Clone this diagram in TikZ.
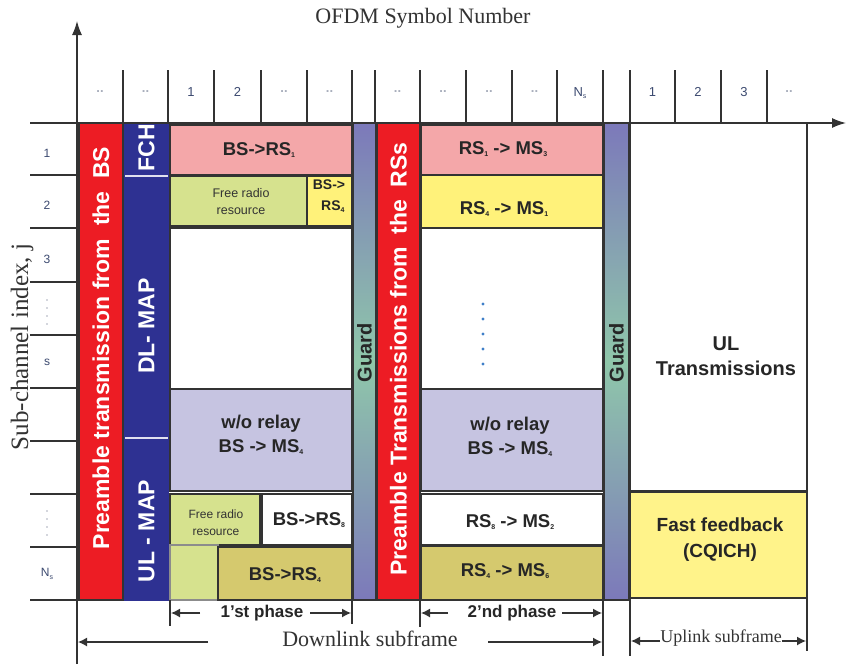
\documentclass[tikz,border=0pt]{standalone}
\usepackage{fontspec}
\setmainfont{Liberation Serif}
\setsansfont{Liberation Sans}
\usetikzlibrary{arrows.meta}
\definecolor{pred}{HTML}{ED1C24}
\definecolor{dblue}{HTML}{2E3192}
\definecolor{pinkc}{HTML}{F4A7A9}
\definecolor{lgreen}{HTML}{D6E28E}
\definecolor{lyellow}{HTML}{FFF27A}
\definecolor{lav}{HTML}{C6C4E1}
\definecolor{olive}{HTML}{D5C96E}
\definecolor{guardp}{HTML}{7C79BA}
\definecolor{guardg}{HTML}{8FC7AA}
\definecolor{ffyel}{HTML}{FFF38A}
\definecolor{edgec}{HTML}{333333}
\definecolor{hdrgray}{HTML}{A8AEBC}
\definecolor{hdrnum}{HTML}{3C4A70}
\definecolor{dotblue}{HTML}{3F7FC8}
\newcommand\fsz[2]{\fontsize{#1}{#2}\selectfont}
\newcommand\sbs[1]{\raisebox{-2.5pt}{\fontsize{7}{7}\selectfont #1}}
\newcommand\blk[8][]{%
  \pgfmathsetmacro\myW{#5-#3}\pgfmathsetmacro\myH{#6-#4}%
  \node[blk,fill=#7,minimum width=\myW pt,minimum height=\myH pt,anchor=north west,#1] (#2) at (#3,#4) {#8};}
\tikzset{
  blk/.style={draw=edgec,line width=1.3pt,inner sep=0pt,outer sep=0pt},
  lbl/.style={font=\sffamily\bfseries\fsz{18.5}{24},text=black!85,align=center,inner sep=0pt},
  small/.style={font=\sffamily\fsz{12.5}{17},text=black!80,align=center,inner sep=0pt},
  vtxt/.style={rotate=90,font=\sffamily\bfseries\fsz{23}{23},text=white,inner sep=0pt},
  gtxt/.style={rotate=90,font=\sffamily\bfseries\fsz{20}{20},text=black!85,inner sep=0pt},
  hdr/.style={font=\sffamily\bfseries\fsz{13}{13},text=hdrgray,inner sep=0pt},
  hdrn/.style={font=\sffamily\fsz{13}{13},text=hdrnum,inner sep=0pt},
  rowl/.style={font=\sffamily\fsz{12}{12},text=hdrnum,inner sep=0pt},
  tick/.style={draw=edgec,line width=1.3pt},
  axis/.style={draw=edgec,line width=1.4pt,-{Latex[length=14pt,width=10pt]}},
  arr/.style={draw=edgec,line width=1.3pt,-{Latex[length=9pt,width=9pt]}},
  sep/.style={draw=white!85!dblue,line width=1.6pt},
  sub/.style={font=\fsz{22}{22},text=black!80,inner sep=0pt},
  phase/.style={font=\sffamily\bfseries\fsz{17}{17},text=black!85,inner sep=0pt},
  gshade/.style={top color=guardp,bottom color=guardp,middle color=guardg}
}
\begin{document}
\begin{tikzpicture}[x=1pt,y=-1pt]
\useasboundingbox (0,0) rectangle (854,664);
\fill[white] (0,0) rectangle (854,664);
% title and axis label
\node[font=\fsz{22}{22},text=black!80,inner sep=0pt] (title) at (423,18) {OFDM Symbol Number};
\node[rotate=90,font=\fsz{25}{25},text=black!80,inner sep=0pt] (ylab) at (22,347) {Sub-channel index, j};
% header ticks
\foreach \x in {123,168,214,261,307,352,375,420,466,512,557,603,630,675,721,767}
  \draw[tick] (\x,70) -- (\x,123);
% header labels
\foreach \x/\t [count=\i] in {100/..,145.5/..,284/..,329.5/..,397.5/..,443/..,489/..,534.5/..,789/..}
  \node[hdr] (hd\i) at (\x,92) {\t};
\foreach \x/\t [count=\i] in {191/1,237.5/2,652.5/1,698/2,744/3}
  \node[hdrn] (hn\i) at (\x,92) {\t};
\node[hdrn] (hns) at (580,93) {N\sbs{s}};
% row ticks
\foreach \y in {175,228,282,335,388,441,494,547}
  \draw[tick] (30,\y) -- (77,\y);
\draw[tick] (30,600) -- (630,600);
% row labels
\foreach \y/\t [count=\i] in {153/1,205/2,259/3,362/s}
  \node[rowl] (rl\i) at (47,\y) {\t};
\foreach \y in {300,308,316,324,511,519,527,535}
  \fill[hdrgray] (47,\y) circle (0.9);
\node[rowl] (rns) at (47,574) {N\sbs{s}};
% BS preamble
\blk{preBS}{79}{123}{123}{600}{pred}{}
\node[vtxt] (preBSt) at (101,348) {Preamble transmission from\ \ the\ \ BS};
% FCH / DL-MAP / UL-MAP
\blk[draw=dblue]{fch}{125}{123}{168}{176}{dblue}{}
\blk[draw=dblue]{dlmap}{125}{176}{168}{438}{dblue}{}
\blk[draw=dblue]{ulmap}{125}{438}{168}{600}{dblue}{}
\draw[sep] (fch.south west) -- (fch.south east);
\draw[sep] (dlmap.south west) -- (dlmap.south east);
\node[vtxt] (fcht) at (146.5,148) {FCH};
\node[vtxt] (dlmapt) at (146.5,326) {DL- MAP};
\node[vtxt] (ulmapt) at (146.5,531) {UL - MAP};
% first phase blocks
\blk{b1}{170}{125}{352}{175}{pinkc}{}
\blk{fr1}{170}{176}{307}{226}{lgreen}{}
\blk{b2}{307}{176}{352}{226}{lyellow}{}
\blk{w1}{170}{228}{352}{389}{white}{}
\blk{b3}{170}{389}{352}{491}{lav}{}
\blk{fr2}{170}{494}{260}{545}{lgreen}{}
\blk[draw=black!45]{fr3}{170}{545}{218}{600}{lgreen}{}
\blk{b4}{262}{494}{352}{545}{white}{}
\blk{b5}{218}{547}{352}{600}{olive}{}
\node[lbl] (b1t) at (259,150) {BS->RS\sbs{1}};
\node[small] (fr1t) at (241,202) {Free radio\\resource};
\node[lbl,font=\sffamily\bfseries\fsz{14}{21}] (b2t) at (329,196) {BS->\\\ \ RS\sbs{4}};
\node[lbl] (b3t) at (261,435) {w/o relay\\BS -> MS\sbs{4}};
\node[small,font=\sffamily\fsz{12}{17}] (fr2t) at (216,523) {Free radio\\resource};
\node[lbl] (b4t) at (309,520) {BS->RS\sbs{8}};
\node[lbl] (b5t) at (285,575) {BS->RS\sbs{4}};
% guard 1
\blk[gshade]{g1}{353}{123}{376}{600}{guardp}{}
\node[gtxt] (g1t) at (364.5,353) {Guard};
% RS preamble
\blk{preRS}{377}{123}{420}{600}{pred}{}
\node[vtxt] (preRSt) at (398.5,359) {Preamble Transmissions from\ \ the\ \ RSs};
% second phase blocks
\blk{c1}{421}{125}{603}{175}{pinkc}{}
\blk{c2}{421}{175}{603}{228}{lyellow}{}
\blk{c3}{421}{228}{603}{389}{white}{}
\blk{c4}{421}{389}{603}{491}{lav}{}
\blk{c5}{421}{494}{603}{545}{white}{}
\blk{c6}{421}{546}{603}{600}{olive}{}
\node[lbl] (c1t) at (503,149) {RS\sbs{1} -> MS\sbs{3}};
\node[lbl] (c2t) at (504,209) {RS\sbs{4} -> MS\sbs{1}};
\foreach \y in {304,319,334,349,364}
  \fill[dotblue] (483,\y) circle (1.6);
\node[lbl] (c4t) at (510,437) {w/o relay\\BS -> MS\sbs{4}};
\node[lbl] (c5t) at (510,522) {RS\sbs{8} -> MS\sbs{2}};
\node[lbl] (c6t) at (505,571) {RS\sbs{4} -> MS\sbs{6}};
% guard 2
\blk[gshade]{g2}{604}{123}{629}{600}{guardp}{}
\node[gtxt] (g2t) at (616.5,353) {Guard};
% uplink
\blk{ul}{630}{123}{807}{491}{white}{}
\blk{ff}{630}{492}{807}{598}{ffyel}{}
\node[lbl,font=\sffamily\bfseries\fsz{20}{25}] (ult) at (726,356) {UL\\Transmissions};
\node[lbl,font=\sffamily\bfseries\fsz{19}{26}] (fft) at (720,540) {Fast feedback\\(CQICH)};
% axes
\coordinate (yb) at (77,664);
\coordinate (yt) at (77,21);
\coordinate (xl) at (30,123);
\coordinate (xr) at (846,123);
\draw[axis] (yb) -- (yt);
\draw[axis] (xl) -- (xr);
% bottom bounds
\draw[tick] (170,600) -- (170,626);
\draw[tick] (352,600) -- (352,624);
\draw[tick] (420,600) -- (420,627);
\draw[tick] (603,600) -- (603,656);
\draw[tick] (630,598) -- (630,656);
\draw[tick] (807,598) -- (807,651);
% phases
\node[phase] (ph1) at (262,613) {1'st phase};
\coordinate (p1a) at (200,613); \coordinate (p1l) at (171,613);
\coordinate (p1b) at (310,613); \coordinate (p1r) at (351,613);
\draw[arr] (p1a) -- (p1l);
\draw[arr] (p1b) -- (p1r);
\node[phase] (ph2) at (512,613) {2'nd phase};
\coordinate (p2a) at (448,613); \coordinate (p2l) at (421,613);
\coordinate (p2b) at (562,613); \coordinate (p2r) at (602,613);
\draw[arr] (p2a) -- (p2l);
\draw[arr] (p2b) -- (p2r);
% subframes
\node[sub] (dl) at (370,639) {Downlink subframe};
\coordinate (d1a) at (208,642); \coordinate (d1l) at (78,642);
\coordinate (d1b) at (488,642); \coordinate (d1r) at (602,642);
\draw[arr] (d1a) -- (d1l);
\draw[arr] (d1b) -- (d1r);
\node[sub,font=\fsz{18}{18}] (ulf) at (721,638) {Uplink subframe};
\coordinate (u1l) at (631,641); \coordinate (u1r) at (806,641);
\draw[arr] (ulf.west |- u1l) -- (u1l);
\draw[arr] (ulf.east |- u1r) -- (u1r);
\end{tikzpicture}
\end{document}
